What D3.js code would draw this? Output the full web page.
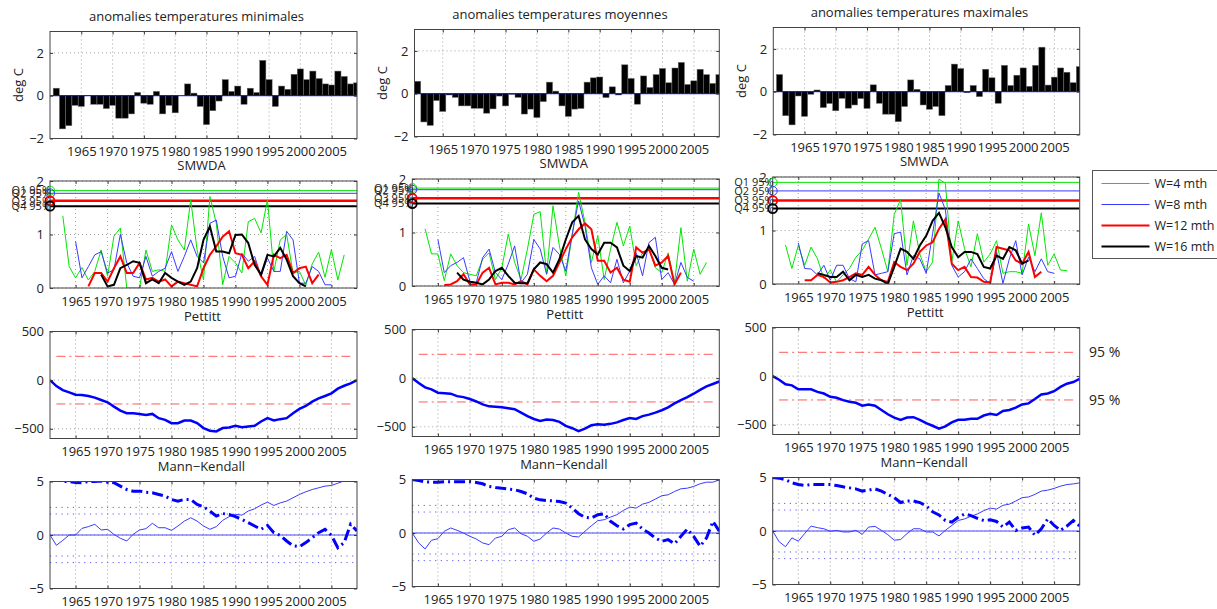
<!DOCTYPE html>
<html>
<head>
<meta charset="utf-8">
<script src="https://cdn.jsdelivr.net/npm/d3@7"></script>
<style>
body { margin: 0; background: #fff; }
text { font-family: "Open Sans", sans-serif; fill: #222; }
</style>
</head>
<body>
<div id="chart"></div>
<script>
// ---- data ----
var years = d3.range(1961, 2010);
var yearTicks = [1965, 1970, 1975, 1980, 1985, 1990, 1995, 2000, 2005];
var columnTitles = ["anomalies temperatures minimales", "anomalies temperatures moyennes", "anomalies temperatures maximales"];
var rowTitles = ["SMWDA", "Pettitt", "Mann\u2212Kendall"];
var legendLabels = ["W=4 mth", "W=8 mth", "W=12 mth", "W=16 mth"];
var qLabels = ["Q1 95%", "Q2 95%", "Q3 95%", "Q4 95%"];

var tminAnom = [0.35,-1.55,-1.4,-0.45,-0.5,0.02,-0.4,-0.4,-0.6,-0.45,-1.05,-1.05,-0.85,0.15,-0.35,-0.4,0.2,-0.85,-0.45,-0.8,0.0,0.55,0.12,-0.5,-1.35,-0.7,-0.25,0.75,0.2,0.45,-0.4,0.35,0.15,1.65,0.75,-0.5,0.45,0.3,1.0,1.25,0.75,1.15,0.8,0.55,0.5,1.15,0.9,0.55,0.6];
var tmoyAnom = [0.58,-1.32,-1.48,-0.32,-0.83,-0.06,-0.17,-0.57,-0.57,-0.68,-0.68,-0.91,-0.71,-0.11,-0.57,-0.03,-0.17,-0.95,-0.72,-1.11,-0.37,0.54,0.12,-0.57,-1.06,-0.72,-0.69,0.54,0.74,0.78,-0.18,0.32,-0.06,1.35,0.71,-0.49,0.83,0.29,0.89,1.18,0.51,1.2,1.46,0.43,0.6,1.14,0.89,0.48,0.89];
var tmaxAnom = [0.8,-1.12,-1.55,-0.2,-1.15,-0.12,0.08,-0.74,-0.55,-0.89,-0.31,-0.77,-0.62,-0.32,-0.78,0.32,-0.54,-1.05,-1.05,-1.4,-0.69,0.55,0.11,-0.62,-0.82,-0.69,-1.12,0.29,1.29,1.08,-0.05,0.29,-0.23,1.05,0.65,-0.54,1.23,0.29,0.77,1.11,0.25,1.23,2.08,0.31,0.68,1.11,0.91,0.42,1.17];

// SMWDA series (first year of each window in *Start)
var smwdaMinStart = [1963, 1965, 1967, 1969];
var smwdaMinW4 = [1.35,0.4,0.19,0.38,0.15,0.31,0.71,0.22,0.97,1.12,0,0,0,0.71,0.31,0.34,0.31,1.18,0.9,0.71,1.65,0.71,0.15,1.71,1.21,0.06,0.59,0.47,0.28,1.24,1.3,1.03,1.65,0.31,0.9,1.0,0.28,0.31,0.05,0.45,0.67,0.2,0.72,0.15,0.62];
var smwdaMinW8 = [0.87,0.19,0.4,0.62,0.68,0.28,0.34,1.0,0.47,0.22,0.19,0.59,0.22,0.31,0.37,0.68,0.31,0.59,0.9,0.59,0.47,1.21,1.27,0.59,0.19,0.22,0.65,0.5,0.59,0.22,0.56,0.31,0.31,1.06,0.9,0.09,0.09,0.4,0.31,0.06,0.06];
var smwdaMinW12 = [0.03,0.28,0.28,0.12,0.37,0.59,0.28,0.28,0.47,0.16,0.19,0.12,0.16,0.03,0.12,0.09,0.06,0.03,0.37,0.62,0.78,0.96,1.06,0.65,0.62,0.37,0.5,0.22,0.06,0.62,0.56,0.62,0.28,0.37,0.4,0.09,0.25];
var smwdaMinW16 = [0.25,0.03,0.06,0.37,0.43,0.5,0.47,0.09,0.16,0.09,0.28,0.19,0.12,0.06,0.12,0.37,0.9,1.15,0.68,0.68,0.65,0.99,1.0,0.84,0.43,0.25,0.62,0.59,0.75,0.53,0.22,0.09,0.03];

var smwdaMoyStart = [1963, 1965, 1966, 1968];
var smwdaMoyW4 = [1.07,0.6,0.6,0.1,0.6,0.38,0.25,0.22,0.19,0.5,0.62,0.12,0.34,0.97,0.44,0.12,0.69,1.34,1.39,0.22,1.5,0.75,0.19,0.94,1.75,1.19,0.44,0.94,0.12,0.69,1.19,0.75,1.12,0.38,0.62,0.69,0.34,0.25,0.62,0.06,1.09,0.09,0.69,0.22,0.44];
var smwdaMoyW8 = [0.87,0.25,0.38,0.44,0.53,0.09,0.06,0.53,0.69,0.25,0.12,0.41,0.75,0.06,0.22,0.87,0.69,0.22,0.72,0.59,0.28,0.97,1.59,1.12,0.34,0.03,0.19,0.06,0.5,0.06,0.28,0.62,0.19,0.81,0.91,0.12,0.25,0.03,0.44,0.16,0.09];
var smwdaMoyW12 = [0.02,0.03,0.09,0.22,0.03,0.03,0.25,0.34,0.03,0.06,0.06,0.03,0.09,0.03,0.31,0.19,0.09,0.19,0.44,0.69,0.91,1.06,1.17,1.06,0.47,0.47,0.25,0.34,0.12,0.08,0.72,0.62,0.69,0.38,0.44,0.56,0.03,0.25];
var smwdaMoyW16 = [0.25,0.12,0.08,0.06,0.03,0.12,0.28,0.34,0.19,0.06,0.05,0.05,0.31,0.44,0.41,0.25,0.5,0.87,1.19,1.31,0.87,0.69,0.59,0.81,0.81,0.72,0.38,0.28,0.56,0.53,0.75,0.56,0.34,0.31];

var smwdaMaxStart = [1963, 1965, 1966, 1968];
var smwdaMaxW4 = [0.73,0.29,0.72,0.35,0.69,0.47,0.1,0.26,0.04,0.17,0.29,0.5,0.63,0.84,1.06,0.66,0.23,1.3,1.58,0.35,1.18,0.56,0.23,0.41,1.96,1.88,0.41,1.18,0.66,0.32,0.94,0.41,0.56,0.81,0.2,0.23,0.23,0.2,1.12,0.53,1.33,0.35,0.56,0.26,0.25];
var smwdaMaxW8 = [0.77,0.29,0.28,0.17,0.35,0.07,0.35,0.35,0.1,0.04,0.75,0.81,0.17,0.2,0.23,0.94,0.97,0.17,0.53,0.47,0.2,0.94,1.7,1.39,0.35,0.13,0.23,0.47,0.29,0.1,0.01,0.6,0.01,0.47,0.81,0.17,0.5,0.23,0.47,0.23,0.2];
var smwdaMaxW12 = [0.07,0.07,0.17,0.13,0.03,0.04,0.07,0.13,0.2,0.17,0.32,0.17,0.07,0.04,0.41,0.32,0.26,0.38,0.6,0.72,0.78,1.03,1.21,0.38,0.26,0.32,0.13,0.12,0.04,0.03,0.69,0.66,0.63,0.44,0.38,0.6,0.13,0.23];
var smwdaMaxW16 = [0.2,0.17,0.13,0.13,0.23,0.07,0.17,0.13,0.17,0.1,0.07,0.0,0.32,0.66,0.6,0.47,0.72,0.9,1.18,1.33,1.06,0.69,0.5,0.6,0.6,0.56,0.32,0.29,0.53,0.47,0.69,0.63,0.38,0.44];

// 95% thresholds Q1..Q4
var qMin = [1.82, 1.77, 1.63, 1.53];
var qMoy = [1.83, 1.80, 1.64, 1.54];
var qMax = [1.90, 1.74, 1.56, 1.41];

// Pettitt statistic
var pettittMin = [0,-61,-102,-126,-150,-153,-163,-180,-204,-228,-272,-313,-340,-340,-347,-357,-347,-391,-408,-442,-442,-415,-415,-442,-493,-520,-527,-493,-486,-469,-483,-476,-469,-425,-391,-415,-401,-391,-340,-296,-265,-221,-187,-163,-136,-88,-58,-34,0];
var pettittMoy = [0,-50,-95,-115,-150,-155,-160,-185,-195,-215,-240,-270,-290,-295,-300,-310,-320,-355,-390,-420,-440,-425,-430,-450,-490,-515,-545,-520,-485,-475,-480,-470,-455,-430,-410,-420,-390,-375,-355,-330,-300,-260,-225,-195,-160,-120,-85,-60,-35];
var pettittMax = [0,-37,-84,-95,-135,-135,-135,-162,-179,-213,-223,-247,-264,-274,-304,-291,-304,-348,-392,-426,-449,-426,-422,-449,-483,-510,-540,-517,-476,-449,-449,-439,-439,-405,-388,-399,-358,-348,-324,-291,-280,-236,-189,-179,-155,-111,-78,-61,-27];
var pettittCrit = [245, -245];

// Mann-Kendall progressive (forward) and retrograde (backward)
var mkMinFwd = [0,-0.96,-0.5,0,0,0.62,0.78,1.0,0.47,0.53,0.06,-0.31,-0.56,0.06,0.47,0.59,1.09,0.68,0.68,0.43,0.84,1.3,1.61,1.3,0.84,0.53,0.78,1.37,1.71,1.93,1.86,2.24,2.45,2.8,3.07,2.76,3.0,3.17,3.48,3.79,4.04,4.25,4.41,4.57,4.63,4.84,5.06,5.25,5.45];
var mkMinBwd = [5.3,5.2,5.0,5.0,4.9,4.88,5.0,5.0,5.05,4.94,4.88,4.57,4.25,4.1,4.1,4.0,3.94,3.79,3.63,3.32,3.17,3.32,3.32,2.86,2.64,2.24,1.77,2.0,1.93,1.71,1.46,1.15,0.84,0.53,0.9,0.22,-0.03,-0.56,-1.02,-1.09,-0.71,-0.25,0.22,0.53,-0.03,-1.18,-0.71,1.0,0.37];
var mkMoyFwd = [0,-0.93,-1.49,-0.68,-0.53,0.16,0.47,0.25,0,-0.31,-0.56,-0.93,-1.09,-0.47,-0.31,0.31,0.47,-0.06,-0.31,-0.78,-0.56,0,0.47,0.37,0,-0.31,-0.37,0.16,0.68,1.15,1.24,1.49,1.71,2.11,2.42,2.33,2.7,2.86,3.17,3.48,3.57,3.88,4.13,4.19,4.35,4.6,4.75,4.75,4.97];
var mkMoyBwd = [5.0,4.9,4.78,4.75,4.75,4.78,4.78,4.8,4.8,4.8,4.72,4.6,4.35,4.25,4.19,4.1,4.04,3.88,3.66,3.26,3.1,3.04,3.0,2.95,2.8,2.33,1.8,1.46,1.4,1.71,1.8,1.09,0.68,0.37,0.78,0.93,0.37,0,-0.47,-0.78,-0.62,-1.0,-0.31,0.37,-0.31,-1.24,-0.47,1.09,0.16];
var mkMaxFwd = [0,-1.0,-1.47,-0.64,-0.95,-0.24,0.46,0.31,0.21,-0.03,0.06,-0.09,-0.09,0.06,-0.31,0.37,0.43,0.06,-0.34,-0.86,-0.8,-0.24,0.21,0.21,-0.09,-0.09,-0.46,0.06,0.52,0.98,1.13,1.38,1.59,1.9,2.14,2.05,2.4,2.51,2.8,3.12,3.18,3.42,3.73,3.82,3.98,4.19,4.34,4.4,4.5];
var mkMaxBwd = [5.0,4.94,4.8,4.5,4.34,4.25,4.34,4.34,4.34,4.34,4.25,4.13,4.03,3.94,3.73,3.82,3.94,3.73,3.42,3.12,2.66,2.81,2.81,2.66,2.35,1.8,1.5,0.98,0.83,1.28,1.59,1.44,1.19,0.98,1.04,0.89,0.37,0.83,0.06,0.28,0.37,-0.4,0.21,1.13,0.52,0.06,0.46,0.98,0.46];
var mkLevels = [1.96, 2.58, -1.96, -2.58];

// ---- layout ----
var svg = d3.select("#chart").append("svg")
    .attr("width", 1217)
    .attr("height", 609);

var panelW = 307, panelH = 107;
var colX = [50, 412.3, 772.7];
var colDy = [0, -2, -4];
var rowY = [31.5, 181, 331.5, 481.5];
var topX0 = [50, 414.5, 773.3];
var topStart = [1960, 1960.5, 1960];
var winColors = ["#00e600", "#3a3aff", "#ff0000", "#000000"];
var winWidths = [1, 1, 2, 2];
var qWidths = [1, 1, 2.5, 2];

var columns = [
    { anom: tminAnom, start: smwdaMinStart, smwda: [smwdaMinW4, smwdaMinW8, smwdaMinW12, smwdaMinW16], q: qMin, pettitt: pettittMin, fwd: mkMinFwd, bwd: mkMinBwd },
    { anom: tmoyAnom, start: smwdaMoyStart, smwda: [smwdaMoyW4, smwdaMoyW8, smwdaMoyW12, smwdaMoyW16], q: qMoy, pettitt: pettittMoy, fwd: mkMoyFwd, bwd: mkMoyBwd },
    { anom: tmaxAnom, start: smwdaMaxStart, smwda: [smwdaMaxW4, smwdaMaxW8, smwdaMaxW12, smwdaMaxW16], q: qMax, pettitt: pettittMax, fwd: mkMaxFwd, bwd: mkMaxBwd }
];

var clipId = 0;

function makePanel(left, top, w, xDomain, yDomain, yTicks) {
    var g = svg.append("g")
        .attr("transform", "translate(" + left + "," + top + ")");
    var x = d3.scaleLinear().domain(xDomain).range([0, w]);
    var y = d3.scaleLinear().domain(yDomain).range([panelH, 0]);

    // dotted grid
    g.append("g").selectAll("line")
        .data(yearTicks)
        .enter().append("line")
            .attr("x1", function(d){ return x(d); })
            .attr("x2", function(d){ return x(d); })
            .attr("y1", 0).attr("y2", panelH)
            .attr("stroke", "#8a8a8a")
            .attr("stroke-width", 0.8)
            .attr("stroke-dasharray", "1,3");
    g.append("g").selectAll("line")
        .data(yTicks)
        .enter().append("line")
            .attr("x1", 0).attr("x2", w)
            .attr("y1", function(d){ return y(d); })
            .attr("y2", function(d){ return y(d); })
            .attr("stroke", "#8a8a8a")
            .attr("stroke-width", 0.8)
            .attr("stroke-dasharray", "1,3");

    clipId++;
    g.append("clipPath").attr("id", "clip" + clipId)
        .append("rect").attr("width", w).attr("height", panelH);
    var plot = g.append("g").attr("clip-path", "url(#clip" + clipId + ")");

    return { g: g, plot: plot, x: x, y: y, w: w, yTicks: yTicks };
}

function finishPanel(p) {
    var fmt = function(d){ return d < 0 ? "\u2212" + Math.abs(d) : "" + d; };
    var xb = p.g.append("g")
        .attr("transform", "translate(0," + panelH + ")")
        .call(d3.axisBottom(p.x).tickValues(yearTicks).tickSizeInner(-3).tickSizeOuter(0).tickPadding(8.5).tickFormat(d3.format("d")));
    var xt = p.g.append("g")
        .call(d3.axisTop(p.x).tickValues(yearTicks).tickSizeInner(-3).tickSizeOuter(0).tickFormat(""));
    var yl = p.g.append("g")
        .call(d3.axisLeft(p.y).tickValues(p.yTicks).tickSizeInner(-3).tickSizeOuter(0).tickPadding(6).tickFormat(fmt));
    var yr = p.g.append("g")
        .attr("transform", "translate(" + p.w + ",0)")
        .call(d3.axisRight(p.y).tickValues(p.yTicks).tickSizeInner(-3).tickSizeOuter(0).tickFormat(""));
    [xb, xt, yl, yr].forEach(function(a){
        a.attr("font-family", "'Open Sans', sans-serif").attr("font-size", 13);
        a.select(".domain").remove();
        a.selectAll(".tick line").attr("stroke", "#333");
        a.selectAll(".tick text").attr("fill", "#222");
    });
    p.g.append("rect")
        .attr("width", p.w).attr("height", panelH)
        .attr("fill", "none")
        .attr("stroke", "#444")
        .attr("stroke-width", 1);
}

function title(p, txt, dx) {
    p.g.append("text")
        .attr("x", p.w / 2 + dx)
        .attr("y", -11)
        .attr("text-anchor", "middle")
        .attr("font-size", "13px")
        .text(txt);
}

var line = function(p){
    return d3.line()
        .x(function(d){ return p.x(d[0]); })
        .y(function(d){ return p.y(d[1]); });
};

columns.forEach(function(c, ci){
    var dy = colDy[ci];

    // ---- row 1: anomalies bars ----
    var p = makePanel(topX0[ci], rowY[0] + dy, colX[ci] + panelW - topX0[ci], [topStart[ci], 2009.05], [-2, 3], [-2, 0, 2]);
    p.plot.selectAll("rect")
        .data(years.map(function(yr, i){ return { yr: yr, v: c.anom[i] }; }))
        .enter().append("rect")
            .attr("x", function(d){ return p.x(d.yr - 0.49); })
            .attr("width", function(d){ return p.x(d.yr + 0.49) - p.x(d.yr - 0.49); })
            .attr("y", function(d){ return p.y(Math.max(0, d.v)); })
            .attr("height", function(d){ return Math.abs(p.y(d.v) - p.y(0)); })
            .attr("fill", "#000")
            .attr("stroke", "#666")
            .attr("stroke-width", 0.5);
    p.plot.append("line")
        .attr("x1", 0).attr("x2", p.w)
        .attr("y1", p.y(0)).attr("y2", p.y(0))
        .attr("stroke", "#0000ff").attr("stroke-width", 1);
    finishPanel(p);
    title(p, columnTitles[ci], -7);
    p.g.append("text")
        .attr("transform", "translate(-32," + (panelH / 2) + ") rotate(-90)")
        .attr("text-anchor", "middle")
        .attr("dy", "0.35em")
        .attr("font-size", "13px")
        .text("deg C");

    // ---- row 2: SMWDA ----
    p = makePanel(colX[ci], rowY[1] + dy, panelW, [1961, 2009], [0, 2], [0, 1, 2]);
    c.q.forEach(function(q, k){
        p.plot.append("line")
            .attr("x1", 0).attr("x2", p.w)
            .attr("y1", p.y(q)).attr("y2", p.y(q))
            .attr("stroke", winColors[k]).attr("stroke-width", qWidths[k]);
    });
    c.smwda.forEach(function(vals, k){
        var pts = vals.map(function(v, i){ return [c.start[k] + i, v]; });
        p.plot.append("path")
            .datum(pts)
            .attr("d", line(p))
            .attr("fill", "none")
            .attr("stroke", winColors[k])
            .attr("stroke-width", winWidths[k]);
    });
    finishPanel(p);
    title(p, rowTitles[0], -2);
    c.q.forEach(function(q, k){
        p.g.append("circle")
            .attr("cx", p.x(1961)).attr("cy", p.y(q))
            .attr("r", 4.5)
            .attr("fill", "none")
            .attr("stroke", winColors[k])
            .attr("stroke-width", k > 1 ? 1.8 : 1);
        p.g.append("text")
            .attr("x", p.x(1961) + 1).attr("y", p.y(q))
            .attr("dy", "0.35em")
            .attr("text-anchor", "end")
            .attr("font-size", "11px")
            .text(qLabels[k]);
    });

    // ---- row 3: Pettitt ----
    p = makePanel(colX[ci], rowY[2] + dy, panelW, [1961, 2009], [-600, 500], [-500, 0, 500]);
    pettittCrit.forEach(function(v){
        p.plot.append("line")
            .attr("x1", p.x(1962)).attr("x2", p.x(2008))
            .attr("y1", p.y(v)).attr("y2", p.y(v))
            .attr("stroke", "#ff5a5a").attr("stroke-width", 1)
            .attr("stroke-dasharray", "9,4,2,4");
    });
    p.plot.append("path")
        .datum(years.map(function(yr, i){ return [yr, c.pettitt[i]]; }))
        .attr("d", line(p))
        .attr("fill", "none")
        .attr("stroke", "#0000ff")
        .attr("stroke-width", 2.5);
    finishPanel(p);
    title(p, rowTitles[1], -1);
    if (ci === 2) {
        pettittCrit.forEach(function(v){
            p.g.append("text")
                .attr("x", 1089 - colX[ci])
                .attr("y", p.y(v))
                .attr("dy", "0.35em")
                .attr("font-size", "14px")
                .text("95 %");
        });
    }

    // ---- row 4: Mann-Kendall ----
    p = makePanel(colX[ci], rowY[3] + dy, panelW, [1961, 2009], [-5, 5], [-5, 0, 5]);
    mkLevels.forEach(function(v){
        p.plot.append("line")
            .attr("x1", 0).attr("x2", p.w)
            .attr("y1", p.y(v)).attr("y2", p.y(v))
            .attr("stroke", "#5a5aff").attr("stroke-width", 1)
            .attr("stroke-dasharray", "1.2,4.5");
    });
    p.plot.append("line")
        .attr("x1", 0).attr("x2", p.w)
        .attr("y1", p.y(0)).attr("y2", p.y(0))
        .attr("stroke", "#4a4aff").attr("stroke-width", 1);
    p.plot.append("path")
        .datum(years.map(function(yr, i){ return [yr, c.fwd[i]]; }))
        .attr("d", line(p))
        .attr("fill", "none")
        .attr("stroke", "#3a3aff")
        .attr("stroke-width", 1);
    p.plot.append("path")
        .datum(years.map(function(yr, i){ return [yr, c.bwd[i]]; }))
        .attr("d", line(p))
        .attr("fill", "none")
        .attr("stroke", "#0000ff")
        .attr("stroke-width", 3)
        .attr("stroke-dasharray", "11,4,2,4");
    finishPanel(p);
    title(p, rowTitles[2], -2);
});

// ---- legend ----
var lg = svg.append("g").attr("transform", "translate(1092.5,170.5)");
lg.append("rect")
    .attr("width", 140).attr("height", 88)
    .attr("fill", "#fff")
    .attr("stroke", "#555");
legendLabels.forEach(function(l, k){
    var yy = 13 + k * 21;
    lg.append("line")
        .attr("x1", 9).attr("x2", 57)
        .attr("y1", yy).attr("y2", yy)
        .attr("stroke", winColors[k])
        .attr("stroke-width", winWidths[k]);
    lg.append("text")
        .attr("x", 62).attr("y", yy)
        .attr("dy", "0.35em")
        .attr("font-size", "12.5px")
        .text(l);
});
</script>
</body>
</html>
